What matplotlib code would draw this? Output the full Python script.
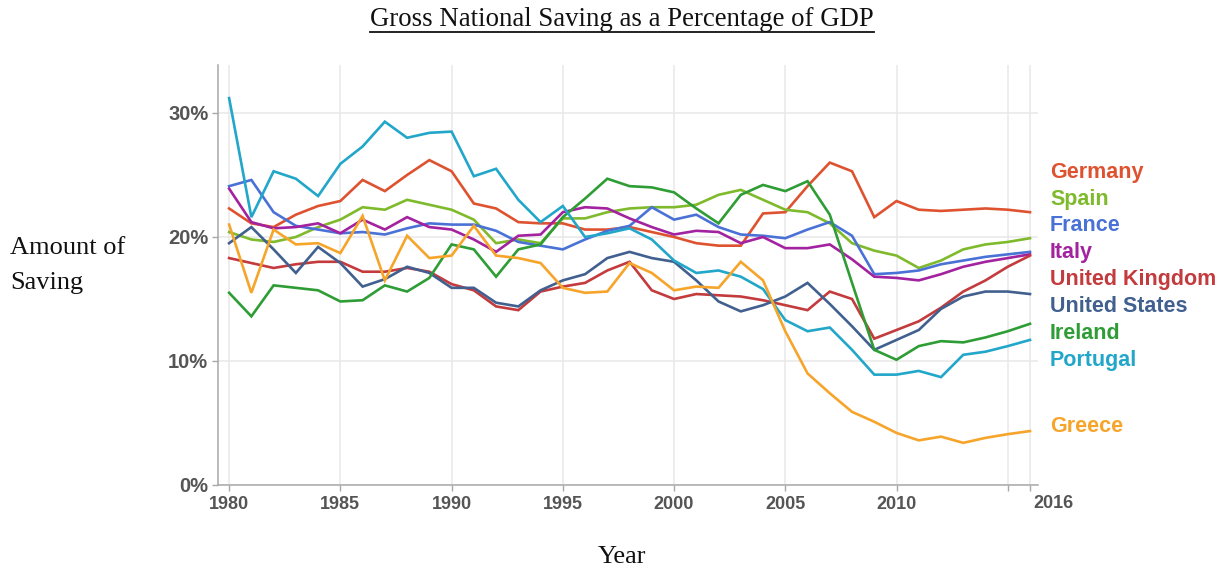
import matplotlib
matplotlib.use("Agg")
import matplotlib.pyplot as plt
from matplotlib.lines import Line2D
from matplotlib import font_manager

years = list(range(1980, 2017))

germany = [22.3, 21.1, 20.8, 21.8, 22.5, 22.9, 24.6, 23.7, 25.0, 26.2,
           25.3, 22.7, 22.3, 21.2, 21.1, 21.1, 20.6, 20.6, 20.8, 20.4,
           20.0, 19.5, 19.3, 19.3, 21.9, 22.0, 24.1, 26.0, 25.3, 21.6,
           22.9, 22.2, 22.1, 22.2, 22.3, 22.2, 22.0]
spain = [20.4, 19.8, 19.6, 20.0, 20.8, 21.4, 22.4, 22.2, 23.0, 22.6,
         22.2, 21.4, 19.5, 19.8, 19.5, 21.5, 21.5, 22.0, 22.3, 22.4,
         22.4, 22.6, 23.4, 23.8, 23.0, 22.2, 22.0, 21.1, 19.5, 18.9,
         18.5, 17.5, 18.1, 19.0, 19.4, 19.6, 19.9]
france = [24.1, 24.6, 22.0, 20.9, 20.6, 20.3, 20.4, 20.2, 20.7, 21.1,
          21.0, 21.0, 20.5, 19.6, 19.3, 19.0, 19.8, 20.5, 20.9, 22.4,
          21.4, 21.8, 20.8, 20.2, 20.1, 19.9, 20.6, 21.2, 20.1, 17.0,
          17.1, 17.3, 17.8, 18.1, 18.4, 18.6, 18.8]
italy = [23.9, 21.2, 20.7, 20.8, 21.1, 20.3, 21.4, 20.6, 21.6, 20.8,
         20.6, 19.8, 18.8, 20.1, 20.2, 22.0, 22.4, 22.3, 21.5, 20.8,
         20.2, 20.5, 20.4, 19.5, 20.0, 19.1, 19.1, 19.4, 18.2, 16.8,
         16.7, 16.5, 17.0, 17.6, 18.0, 18.3, 18.6]
united_kingdom = [18.3, 17.9, 17.5, 17.8, 18.0, 18.0, 17.2, 17.2, 17.5, 17.2,
                  16.2, 15.7, 14.4, 14.1, 15.6, 16.0, 16.3, 17.3, 18.0, 15.7,
                  15.0, 15.4, 15.3, 15.2, 14.9, 14.5, 14.1, 15.6, 15.0, 11.8,
                  12.5, 13.2, 14.3, 15.6, 16.5, 17.6, 18.5]
united_states = [19.5, 20.8, 19.0, 17.1, 19.2, 17.9, 16.0, 16.6, 17.6, 17.1,
                 15.9, 15.9, 14.7, 14.4, 15.7, 16.5, 17.0, 18.3, 18.8, 18.3,
                 18.0, 16.5, 14.8, 14.0, 14.5, 15.2, 16.3, 14.6, 12.8, 10.9,
                 11.7, 12.5, 14.2, 15.2, 15.6, 15.6, 15.4]
ireland = [15.5, 13.6, 16.1, 15.9, 15.7, 14.8, 14.9, 16.1, 15.6, 16.7,
           19.4, 19.0, 16.8, 19.0, 19.4, 21.6, 23.1, 24.7, 24.1, 24.0,
           23.6, 22.3, 21.1, 23.4, 24.2, 23.7, 24.5, 21.8, 16.3, 10.9,
           10.1, 11.2, 11.6, 11.5, 11.9, 12.4, 13.0]
portugal = [31.2, 21.6, 25.3, 24.7, 23.3, 25.9, 27.3, 29.3, 28.0, 28.4,
            28.5, 24.9, 25.5, 23.0, 21.2, 22.5, 20.0, 20.3, 20.7, 19.8,
            18.1, 17.1, 17.3, 16.8, 15.8, 13.3, 12.4, 12.7, 10.9, 8.9,
            8.9, 9.2, 8.7, 10.5, 10.75, 11.2, 11.7]
greece = [21.0, 15.5, 20.6, 19.4, 19.5, 18.7, 21.7, 16.5, 20.1, 18.3,
          18.5, 20.9, 18.5, 18.3, 17.9, 15.9, 15.5, 15.6, 17.9, 17.1,
          15.7, 16.0, 15.9, 18.0, 16.5, 12.4, 9.0, 7.4, 5.9, 5.1,
          4.2, 3.6, 3.9, 3.4, 3.8, 4.1, 4.35]

countries = ["Germany", "Spain", "France", "Italy", "United Kingdom",
             "United States", "Ireland", "Portugal", "Greece"]
series = [germany, spain, france, italy, united_kingdom,
          united_states, ireland, portugal, greece]
colors = ["#df5230", "#7fba2c", "#4a72d6", "#a3229f", "#c33b3d",
          "#41608f", "#2e9d35", "#22a6c9", "#f6a42a"]
# vertical slot (in % units) of each country's name on the right
label_slots = [25.2, 23.05, 20.9, 18.72, 16.58, 14.42, 12.25, 10.08, 4.7]

x_ticks = [1980, 1985, 1990, 1995, 2000, 2005, 2010, 2015, 2016]
x_tick_labels = ["1980", "1985", "1990", "1995", "2000", "2005", "2010", "", ""]
y_ticks = [0, 10, 20, 30]
y_tick_labels = ["0%", "10%", "20%", "30%"]

# year labels use a narrow face when one is installed
installed = {f.name for f in font_manager.fontManager.ttflist}
if "Liberation Sans Narrow" in installed:
    year_family, year_size = ["Liberation Sans Narrow"], 15
else:
    year_family, year_size = ["Liberation Sans"], 13

W, H = 1231, 571
fig = plt.figure(figsize=(W / 100, H / 100), dpi=100)
ax = fig.add_axes([218 / W, 1 - 485 / H, (1038 - 218) / W, (485 - 65) / H])

for vals, col in zip(series, colors):
    ax.plot(years, vals, color=col, lw=1.9, solid_joinstyle="miter", zorder=3)

ax.set_xlim(1979.5, 2016.36)
ax.set_ylim(0, 33.87)

ax.set_xticks(x_ticks)
ax.set_xticklabels(x_tick_labels)
ax.set_yticks(y_ticks)
ax.set_yticklabels(y_tick_labels)

tick_grey = "#555555"
for lab in ax.get_xticklabels():
    lab.set_family(year_family)
    lab.set_fontweight("bold")
    lab.set_fontsize(year_size)
    lab.set_color(tick_grey)
for lab in ax.get_yticklabels():
    lab.set_family(["Liberation Sans"])
    lab.set_fontweight("bold")
    lab.set_fontsize(14.5)
    lab.set_color(tick_grey)

ax.tick_params(axis="both", color="#a8a8a8", length=4, width=1)
ax.tick_params(axis="x", pad=4)
ax.tick_params(axis="y", pad=3)

ax.grid(True, color="#e8e8e8", lw=1.1, zorder=0)
for side in ("top", "right"):
    ax.spines[side].set_visible(False)
for side in ("left", "bottom"):
    ax.spines[side].set_color("#a8a8a8")
    ax.spines[side].set_linewidth(1.1)

# end-year label sits just to the right of its tick
ax.annotate("2016", xy=(2016, 0), xycoords="data", xytext=(23, -10),
            textcoords="offset pixels", ha="center", va="top",
            fontsize=year_size, fontweight="bold", color=tick_grey,
            family=year_family, annotation_clip=False)

# country names stacked on the right
for name, col, slot in zip(countries, colors, label_slots):
    ax.annotate(name, xy=(2016.36, slot), xycoords="data", xytext=(12, 0),
                textcoords="offset pixels", ha="left", va="center",
                fontsize=15.5, fontweight="bold", color=col,
                family=["Liberation Sans"], annotation_clip=False)

serif = ["Liberation Serif", "DejaVu Serif"]
title = fig.text(622 / W, 1 - 20 / H, "Gross National Saving as a Percentage of GDP",
                 ha="center", va="center", fontsize=19.3, family=serif, color="#111111")
fig.text(10 / W, 1 - 248 / H, "Amount of", ha="left", va="center",
         fontsize=19, family=serif, color="#111111")
fig.text(10 / W, 1 - 283 / H, "Saving", ha="left", va="center",
         fontsize=19, family=serif, color="#111111")
fig.text(622 / W, 1 - 557 / H, "Year", ha="center", va="center",
         fontsize=19, family=serif, color="#111111")

# underline the title
fig.canvas.draw()
bb = title.get_window_extent()
uy = (bb.y0 + 1) / H
fig.add_artist(Line2D([bb.x0 / W, bb.x1 / W], [uy, uy], color="#111111", lw=1.3))

fig.savefig("out.png", dpi=100, facecolor="white")
